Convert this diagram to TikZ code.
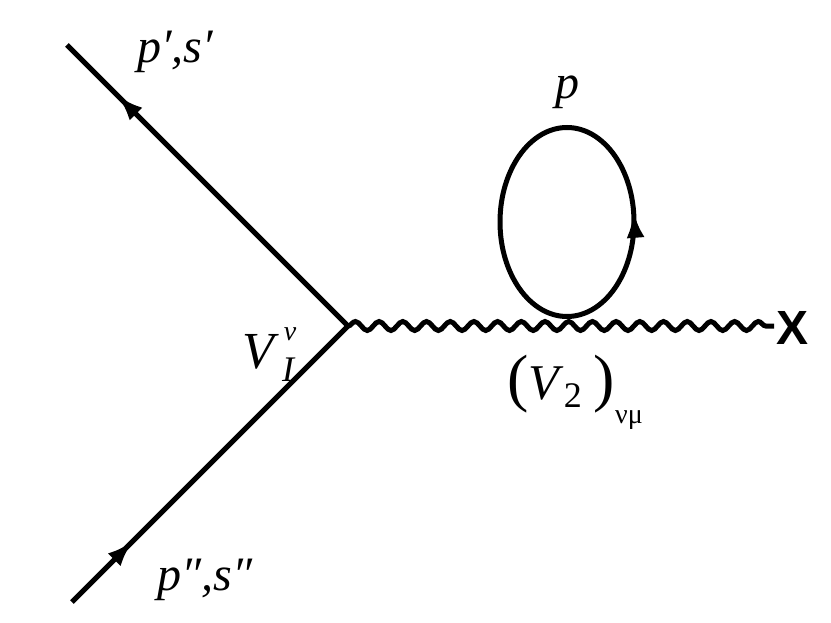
\documentclass[tikz,border=0pt]{standalone}
\usepackage{fontspec}
\setmainfont{Liberation Serif}
\newfontfamily\sansx{Liberation Sans}
\usetikzlibrary{decorations.pathmorphing,decorations.markings,arrows.meta}
\begin{document}
\begin{tikzpicture}[x=1pt,y=-1pt,
  fline/.style={line width=5pt},
  midarrow/.style={postaction={decorate},decoration={markings,mark=at position #1 with {\arrow{Latex[length=26pt,width=18pt]}}}},
  lbl/.style={font=\fontsize{48}{50}\selectfont\itshape, inner sep=0pt}]
\useasboundingbox (0,0) rectangle (831,623);
\coordinate (v) at (348,326);
\coordinate (a) at (67,45);
\coordinate (b) at (72,602);
\coordinate (e) at (774,326);
\draw[fline,midarrow=0.82] (v) -- (a);
\draw[fline,midarrow=0.22] (b) -- (v);
\draw[line width=5pt,decorate,decoration={snake,amplitude=4.5pt,segment length=23.7pt}] (v) -- (e);
\node[font=\sansx\bfseries\fontsize{48}{48}\selectfont, inner sep=0pt] (x) at (793,328) {X};
\draw[fline,midarrow=0.27]
  (567,316.5) arc[start angle=90,end angle=-270,x radius=67,y radius=94.5];
\node[lbl] (l1) at (175,52) {p′,s′};
\node[lbl] (l2) at (567,92) {p};
\node[lbl,font=\fontsize{52}{52}\selectfont\itshape] (l3) at (258,352) {V};
\node[inner sep=0pt,font=\fontsize{28}{28}\selectfont\itshape] (l3a) at (290,334) {v};
\node[inner sep=0pt,font=\fontsize{36}{36}\selectfont\itshape] (l3b) at (288,370) {I};
\node[inner sep=0pt] (l4) at (575,392) {\fontsize{64}{64}\selectfont(\fontsize{50}{50}\selectfont\textit{V}\raisebox{-8pt}{\fontsize{36}{36}\selectfont 2}\hspace{12pt}\fontsize{64}{64}\selectfont)\raisebox{-24pt}{\fontsize{28}{28}\selectfont νμ}};
\node[lbl] (l5) at (205,580) {p″,s″};
\end{tikzpicture}
\end{document}
